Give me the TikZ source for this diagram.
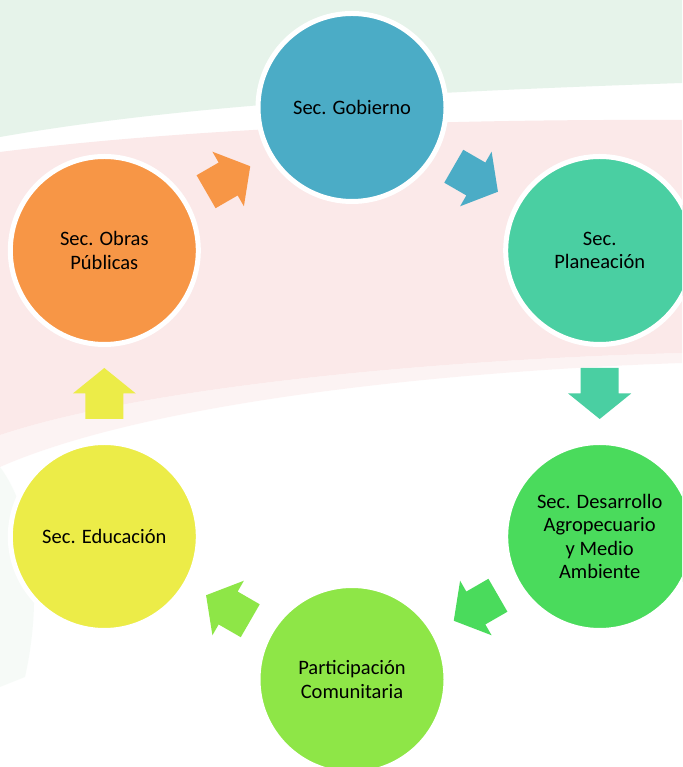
\documentclass[tikz,border=0pt]{standalone}
\usepackage{fontspec}
\setmainfont{Carlito}
\usetikzlibrary{calc}
\definecolor{cgob}{HTML}{4BACC6}
\definecolor{cplan}{HTML}{4ACFA2}
\definecolor{cdes}{HTML}{4ADB5C}
\definecolor{cpart}{HTML}{8EE647}
\definecolor{cedu}{HTML}{ECEC48}
\definecolor{cobr}{HTML}{F79646}
\definecolor{bggreen}{HTML}{E6F3EA}
\definecolor{bgpink}{HTML}{FBE9E9}
\tikzset{
  stage/.style={circle, draw=white, line width=5pt, minimum size=188pt, inner sep=0pt,
    align=center, text=black, font=\fontsize{20.5}{23.5}\selectfont},
}
\newcommand\flowarrow[3]{%
  \fill[#3] let \p1=($(#2)-(#1)$), \p2=($(#1)!0.5!(#2)$), \n1={atan2(\y1,\x1)} in
    ($(\p2)+(\n1:25.5)$) -- ($(\p2)+(\n1+90:31.5)$) -- ($(\p2)+(\n1+90:19)$)
    -- ($(\p2)+(\n1+180:25.5)+(\n1+90:19)$) -- ($(\p2)+(\n1+180:25.5)+(\n1-90:19)$)
    -- ($(\p2)+(\n1-90:19)$) -- ($(\p2)+(\n1-90:31.5)$) -- cycle;}
\begin{document}
\begin{tikzpicture}[x=1pt,y=1pt]
\useasboundingbox (0,0) rectangle (682,767);
\clip (0,0) rectangle (682,767);
% background
\fill[white] (0,0) rectangle (682,767);
\fill[bggreen] (0,767) -- (682,767) -- (682,684) .. controls (450,676) and (200,665) .. (0,630) -- cycle;
\fill[bgpink] (0,615) .. controls (200,640) and (450,648) .. (682,647) -- (682,414)
   .. controls (450,408) and (150,382) .. (0,332) -- cycle;
\fill[bgpink, opacity=0.5] (0,332) .. controls (150,382) and (450,408) .. (682,414) -- (682,404)
   .. controls (450,396) and (150,366) .. (0,300) -- cycle;
\fill[bggreen, opacity=0.35] (0,300) .. controls (30,260) and (45,180) .. (25,90) -- (0,80) -- cycle;
% stages
\coordinate (c) at (352,373.5);
\node[stage, fill=cgob]  (gob)  at ($(c)+(90:286)$)   {Sec. Gobierno};
\node[stage, fill=cplan] (plan) at ($(c)+(30:286)$)   {Sec.\\Planeación};
\node[stage, fill=cdes]  (des)  at ($(c)+(-30:286)$)  {Sec. Desarrollo\\Agropecuario\\y Medio\\Ambiente};
\node[stage, fill=cpart] (part) at ($(c)+(-90:286)$)  {Participación\\Comunitaria};
\node[stage, fill=cedu]  (edu)  at ($(c)+(-150:286)$) {Sec. Educación};
\node[stage, fill=cobr]  (obr)  at ($(c)+(150:286)$)  {Sec. Obras\\Públicas};
% arrows
\flowarrow{gob}{plan}{cgob}
\flowarrow{plan}{des}{cplan}
\flowarrow{des}{part}{cdes}
\flowarrow{part}{edu}{cpart}
\flowarrow{edu}{obr}{cedu}
\flowarrow{obr}{gob}{cobr}
\end{tikzpicture}
\end{document}
